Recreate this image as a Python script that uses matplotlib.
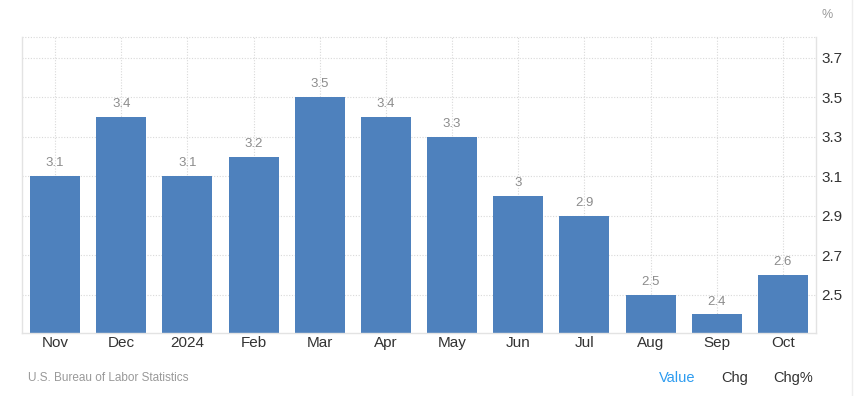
import matplotlib
matplotlib.use("Agg")
import matplotlib.pyplot as plt

months = ["Nov", "Dec", "2024", "Feb", "Mar", "Apr", "May", "Jun", "Jul", "Aug", "Sep", "Oct"]
values = [3.1, 3.4, 3.1, 3.2, 3.5, 3.4, 3.3, 3.0, 2.9, 2.5, 2.4, 2.6]
labels = ["3.1", "3.4", "3.1", "3.2", "3.5", "3.4", "3.3", "3", "2.9", "2.5", "2.4", "2.6"]
yticks = [2.5, 2.7, 2.9, 3.1, 3.3, 3.5, 3.7]

plt.rcParams['font.family'] = ['Liberation Sans', 'DejaVu Sans']

fig = plt.figure(figsize=(8.63, 3.96), dpi=100)
# axes in pixels: left 22, right 816, top 37, bottom 333
W, H = 863, 396
ax = fig.add_axes([22 / W, 1 - 333 / H, (816 - 22) / W, (333 - 37) / H])

x = list(range(len(months)))
ax.bar(x, values, width=0.755, color="#4e81bd", zorder=2)
for i, (v, lab) in enumerate(zip(values, labels)):
    ax.text(i, v + 0.035, lab, ha="center", va="bottom", fontsize=9.5, color="#8c8c8c")

ax.set_xlim(-0.5, 11.5)
ax.set_ylim(2.306, 3.806)
ax.set_xticks(x)
ax.set_xticklabels(months, fontsize=11, color="#333333")
ax.set_yticks(yticks)
ax.set_yticklabels([f"{t:.1f}" for t in yticks], fontsize=11, color="#333333")
ax.yaxis.tick_right()
ax.tick_params(axis="both", length=0)
ax.tick_params(axis="x", pad=2)
ax.tick_params(axis="y", pad=4)

ax.grid(True, color="#d9d9d9", linestyle=(0, (1, 1.5)), linewidth=0.8, zorder=0)
ax.spines["top"].set_visible(False)
for side in ["left", "right", "bottom"]:
    ax.spines[side].set_color("#e3e3e3")
    ax.spines[side].set_linewidth(1)
# top dotted border line
ax.axhline(3.806, color="#d9d9d9", linestyle=(0, (1, 1.5)), linewidth=0.8, zorder=0, clip_on=False)

fig.text(827 / W, 1 - 15 / H, "%", fontsize=9, color="#999999", ha="center", va="center")
fig.text(28 / W, 1 - 378 / H, "U.S. Bureau of Labor Statistics", fontsize=8.5, color="#999999",
         ha="left", va="center")
fig.text(677 / W, 1 - 378 / H, "Value", fontsize=10.5, color="#2d9cf0", ha="center", va="center")
fig.text(735 / W, 1 - 378 / H, "Chg", fontsize=10.5, color="#333333", ha="center", va="center")
fig.text(793 / W, 1 - 378 / H, "Chg%", fontsize=10.5, color="#333333", ha="center", va="center")

fig.add_artist(plt.Line2D([852 / W, 852 / W], [0, 1], color="#eeeeee", linewidth=1))

fig.savefig("out.png", dpi=100)
